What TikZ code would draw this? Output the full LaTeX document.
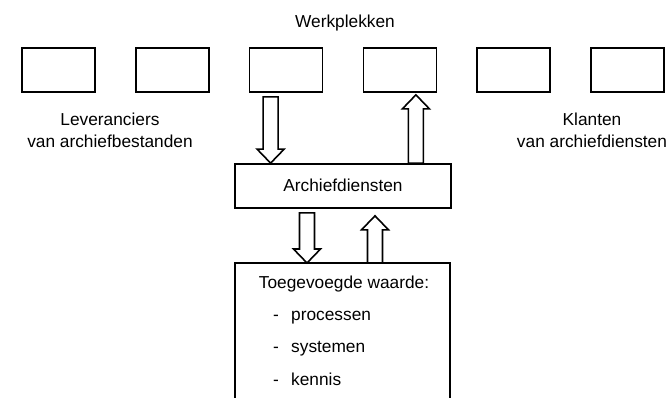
\documentclass[tikz,border=0pt]{standalone}
\usepackage{fontspec}
\setmainfont{Liberation Sans}
\usetikzlibrary{calc}

% Hollow block arrow from #1 (tail) to #2 (tip)
\newcommand\blockarrow[2]{%
  \coordinate (ba-h) at ($(#2)!14pt!(#1)$);
  \draw[arrowline] ($(#1)+(-7.5,0)$) -- ($(ba-h)+(-7.5,0)$) -- ($(ba-h)+(-13.5,0)$)
    -- (#2) -- ($(ba-h)+(13.5,0)$) -- ($(ba-h)+(7.5,0)$) -- ($(#1)+(7.5,0)$) -- cycle;
}

\begin{document}
\begin{tikzpicture}[x=1pt,y=-1pt,
  every node/.style={font=\fontsize{17.3}{22}\selectfont},
  label/.style={anchor=base, inner sep=0pt},
  item/.style={anchor=base west, inner sep=0pt},
  post/.style={draw, line width=1.7pt, minimum width=73pt, minimum height=44pt, inner sep=0pt},
  service/.style={draw, line width=1.7pt, minimum width=216pt, minimum height=44pt, inner sep=0pt},
  frame/.style={draw, line width=1.7pt},
  arrowline/.style={draw, line width=1.6pt, fill=white, line join=miter}]
\useasboundingbox (0,0) rectangle (668,398);

% workstations
\node[label] (title) at (345,28) {Werkplekken};
\foreach \i/\x in {1/58.5, 2/172.3, 3/286.1, 4/399.9, 5/513.7, 6/627.5}
  \node[post] (w\i) at (\x,70) {};

% suppliers and clients
\node[label] (lev1) at (110,126) {Leveranciers};
\node[label] (lev2) at (110,148) {van archiefbestanden};
\node[label] (kla1) at (592,126) {Klanten};
\node[label] (kla2) at (592,148) {van archiefdiensten};

% archive services
\node[service] (archief) at (343,186) {};
\node[label] (archieftxt) at (343,191) {Archiefdiensten};

% added value frame (open at the bottom)
\coordinate (wbl) at (235,398);
\coordinate (wtl) at (235,263);
\coordinate (wtr) at (450,263);
\coordinate (wbr) at (450,398);
\draw[frame] (wbl) -- (wtl) -- (wtr) -- (wbr);
\node[label] (waarde) at (344,288) {Toegevoegde waarde:};
\foreach \n/\t/\y in {p/processen/320, s/systemen/352, k/kennis/385}{
  \node[item] (d\n) at (273,\y) {-};
  \node[item] (i\n) at (291,\y) {\t};
}

% flows between workstations, services and added value
\coordinate (a1s) at ($(w3.south)+(-15.5,4)$);
\coordinate (a1t) at (a1s |- archief.north);
\blockarrow{a1s}{a1t}

\coordinate (a2t) at ($(w4.south)+(16,2)$);
\coordinate (a2s) at (a2t |- archief.north);
\blockarrow{a2s}{a2t}

\coordinate (a3s) at ($(archief.south)+(-36,4)$);
\coordinate (a3t) at (a3s |- wtl);
\blockarrow{a3s}{a3t}

\coordinate (a4t) at ($(archief.south)+(32,7)$);
\coordinate (a4s) at (a4t |- wtl);
\blockarrow{a4s}{a4t}
\end{tikzpicture}
\end{document}
